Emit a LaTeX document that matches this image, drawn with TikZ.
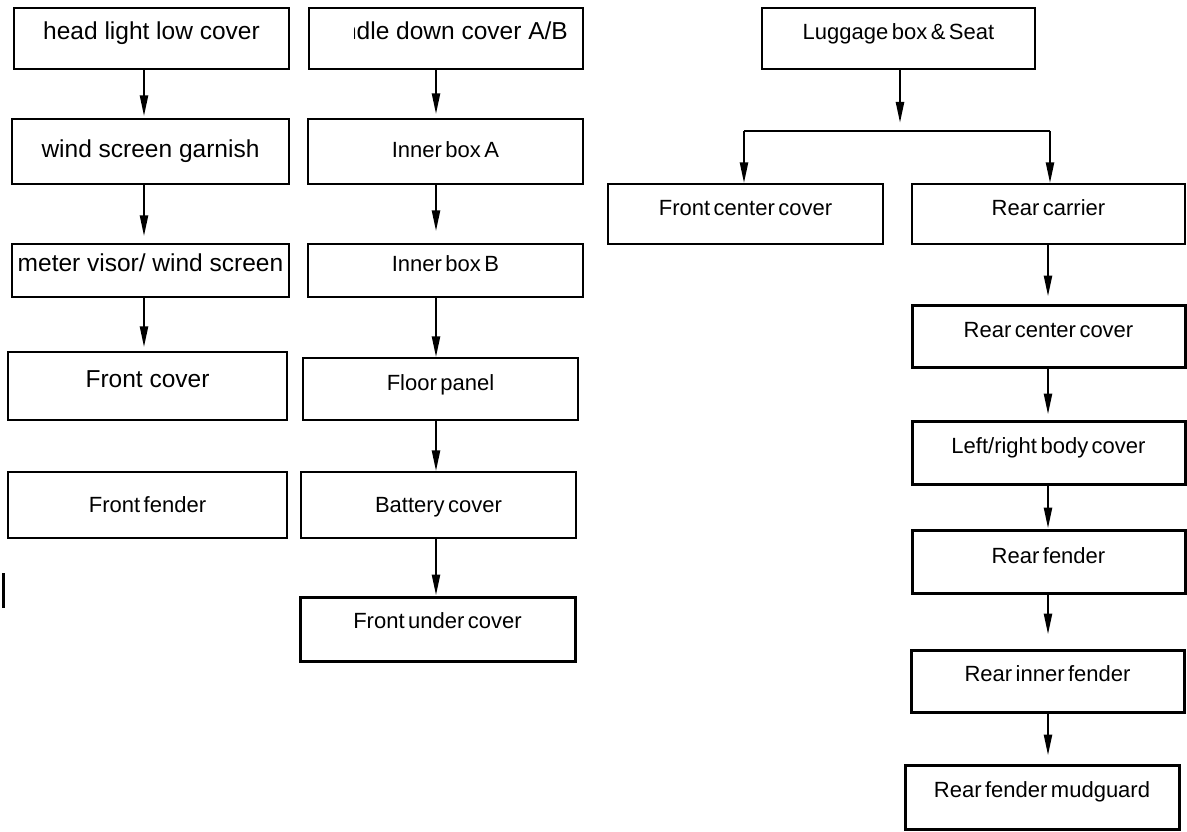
\documentclass[tikz,border=0pt]{standalone}
\usepackage{fontspec}
\setmainfont{Liberation Sans}
\usetikzlibrary{arrows.meta}
\newcommand{\boxfont}{\fontsize{22}{26}\selectfont\spaceskip=3.5pt plus 1pt}
\newcommand{\bigfont}{\fontsize{24.5}{29}\selectfont}

\begin{document}
\begin{tikzpicture}[x=1pt, y=-1pt,
	box/.style={draw, line width=1.4pt, inner sep=0pt, font=\boxfont, text height=15.8pt, text depth=14pt},
	heavy/.style={box, line width=3pt},
	big/.style={font=\bigfont, text height=17.5pt},
	arr/.style={-{Triangle[length=21pt,width=8pt]}, line width=2.4pt}]
	\useasboundingbox (0,0) rectangle (1187,832);
	%draw left column
	\node[box, big, text depth=16pt, minimum width=275pt, minimum height=61pt] (headlight) at (151.5,38.5) {head light low cover};
	\node[box, big, text depth=6pt, minimum width=277pt, minimum height=65pt] (wind) at (150.5,151.5) {wind screen garnish};
	\node[box, big, text depth=16pt, minimum width=277pt, minimum height=53pt] (meter) at (150.5,270.5) {meter visor/ wind screen};
	\node[box, big, text depth=14pt, minimum width=279pt, minimum height=68pt] (frontcover) at (147.5,386) {Front cover};
	\node[box, text depth=0pt, minimum width=279pt, minimum height=66pt] (frontfender) at (147.5,505) {Front fender};
	\draw[line width=3pt] (3,573) -- (3,608);
	%draw middle column
	\node[box, minimum width=274pt, minimum height=61pt] (handle) at (446,38.5) {};
	\begin{scope}
		\clip (354,8) rectangle (583,69);
		\node[font=\bigfont, anchor=base east, inner sep=0pt] (handletext) at (568,39.3) {Handle down cover A/B};
	\end{scope}
	\node[box, text depth=4pt, minimum width=275pt, minimum height=65pt] (innerA) at (445.5,151.5) {Inner box A};
	\node[box, text depth=14pt, minimum width=275pt, minimum height=53pt] (innerB) at (445.5,270.5) {Inner box B};
	\node[box, text depth=12pt, minimum width=275pt, minimum height=62pt] (floor) at (440.5,389) {Floor panel};
	\node[box, text depth=0pt, minimum width=275pt, minimum height=66pt] (battery) at (438.5,505) {Battery cover};
	\node[heavy, text depth=16pt, minimum width=275pt, minimum height=64pt] (frontunder) at (437.5,629) {Front under cover};
	%draw right part
	\node[box, text depth=14pt, minimum width=273pt, minimum height=61pt] (luggage) at (898.5,38.5) {Luggage box \& Seat};
	\node[box, text depth=13pt, minimum width=275pt, minimum height=60pt] (frontcenter) at (745.5,214) {Front center cover};
	\node[box, text depth=13pt, minimum width=273pt, minimum height=60pt] (rearcarrier) at (1048.5,214) {Rear carrier};
	\node[heavy, text depth=13pt, minimum width=273pt, minimum height=62pt] (rearcenter) at (1048.5,336) {Rear center cover};
	\node[heavy, text depth=14pt, minimum width=273pt, minimum height=63pt] (leftright) at (1048.5,452.5) {Left/right body cover};
	\node[heavy, text depth=11pt, minimum width=273pt, minimum height=63pt] (rearfender) at (1048.5,561.5) {Rear fender};
	\node[heavy, text depth=14pt, minimum width=273pt, minimum height=62pt] (rearinner) at (1047.5,681) {Rear inner fender};
	\node[heavy, text depth=15pt, minimum width=274pt, minimum height=64pt] (mudguard) at (1042,797) {Rear fender mudguard};
	%draw arrows
	\coordinate (colA) at (144,0);
	\coordinate (colB) at (436,0);
	\coordinate (colD) at (1048,0);
	\coordinate (split) at (900,131);
	\coordinate (leftdrop) at (744,131);
	\coordinate (rightdrop) at (1050,131);
	\draw[arr, shorten >=2pt] (headlight.south -| colA) -- (wind.north -| colA);
	\draw[arr, shorten >=7pt] (wind.south -| colA) -- (meter.north -| colA);
	\draw[arr, shorten >=4pt] (meter.south -| colA) -- (frontcover.north -| colA);
	\draw[arr, shorten >=4pt] (handle.south -| colB) -- (innerA.north -| colB);
	\draw[arr, shorten >=12pt] (innerA.south -| colB) -- (innerB.north -| colB);
	\draw[arr] (innerB.south -| colB) -- (floor.north -| colB);
	\draw[arr] (floor.south -| colB) -- (battery.north -| colB);
	\draw[arr] (battery.south -| colB) -- (frontunder.north -| colB);
	\draw[arr, shorten >=8pt] (luggage.south -| split) -- (split);
	\draw[line width=2pt] (leftdrop) -- (rightdrop);
	\draw[arr] (leftdrop) -- (frontcenter.north -| leftdrop);
	\draw[arr] (rightdrop) -- (rearcarrier.north -| rightdrop);
	\draw[arr, shorten >=7pt] (rearcarrier.south -| colD) -- (rearcenter.north -| colD);
	\draw[arr, shorten >=5pt] (rearcenter.south -| colD) -- (leftright.north -| colD);
	\draw[arr] (leftright.south -| colD) -- (rearfender.north -| colD);
	\draw[arr, shorten >=14pt] (rearfender.south -| colD) -- (rearinner.north -| colD);
	\draw[arr, shorten >=8pt] (rearinner.south -| colD) -- (mudguard.north -| colD);
\end{tikzpicture}
\end{document}
